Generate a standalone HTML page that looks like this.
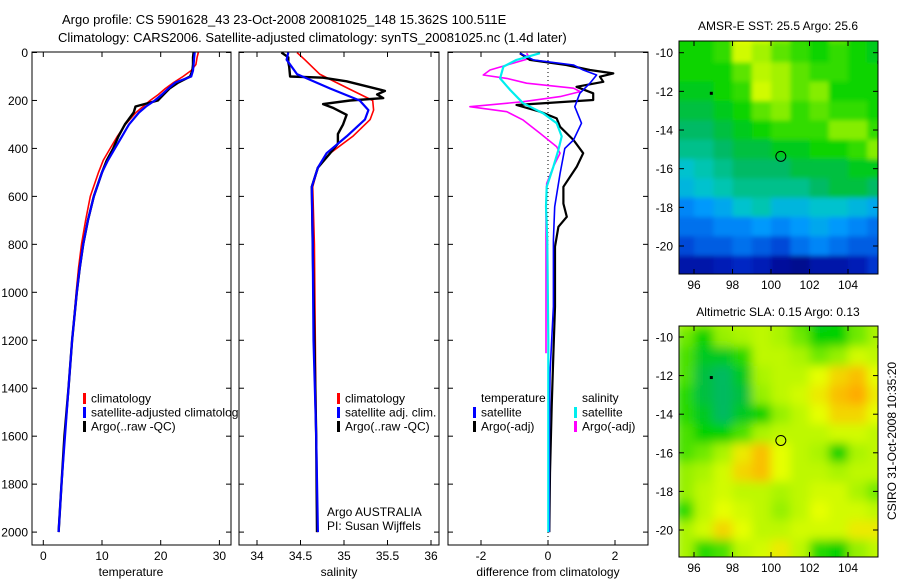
<!DOCTYPE html>
<html><head><meta charset="utf-8">
<style>
html,body{margin:0;padding:0;background:#fff;}
svg{display:block;font-family:"Liberation Sans",Arial,sans-serif;}
text{font-size:12px;fill:#000;}
</style></head>
<body>
<svg id="fig" width="900" height="580" viewBox="0 0 900 580" xmlns="http://www.w3.org/2000/svg">
<defs>
<clipPath id="cp1"><rect x="32" y="52" width="199" height="493"/></clipPath>
<clipPath id="cp2"><rect x="239" y="52" width="200" height="493"/></clipPath>
<clipPath id="cp3"><rect x="448" y="52" width="200" height="493"/></clipPath>
<clipPath id="cm1"><rect x="679" y="41" width="199" height="233"/></clipPath>
<clipPath id="cm2"><rect x="679" y="326" width="199" height="231"/></clipPath>
<filter id="blur1" x="-5%" y="-5%" width="110%" height="110%"><feGaussianBlur stdDeviation="2.5"/></filter>
<filter id="blur2" x="-5%" y="-5%" width="110%" height="110%"><feGaussianBlur stdDeviation="5"/></filter>
</defs>
<text x="62" y="24" style="font-size:13px">Argo profile: CS 5901628_43 23-Oct-2008 20081025_148 15.362S 100.511E</text>
<text x="58" y="42" style="font-size:13px">Climatology: CARS2006. Satellite-adjusted climatology: synTS_20081025.nc (1.4d later)</text>
<g id="g1"></g>
<g id="g2"></g>
<g id="g3"></g>
<g id="gm1"></g>
<g id="gm2"></g>
<text transform="translate(896,441) rotate(-90)" text-anchor="middle">CSIRO 31-Oct-2008 10:35:20</text>
</svg>
<script>
const depths=[0,20,50,75,100,125,150,175,200,225,250,300,350,400,450,500,600,700,800,900,1000,1200,1400,1600,1800,2000];
const tClim=[26.4,26.2,26.0,25.2,23.8,22.2,20.8,19.6,18.2,17.0,15.8,14.0,12.6,11.4,10.2,9.4,8.0,7.2,6.5,6.0,5.6,4.9,4.3,3.6,3.1,2.6];
const tSat=[25.8,25.7,25.6,25.5,25.2,22.5,21.3,20.2,19.0,17.5,16.3,14.6,13.4,12.2,11.0,10.0,8.6,7.6,6.8,6.2,5.7,4.9,4.3,3.7,3.1,2.6];
const tArgo=[25.6,25.5,25.5,25.4,25.0,23.0,21.5,20.5,19.5,15.7,15.4,13.9,12.8,11.9,10.8,10.0,8.6,7.6,6.8,6.2,5.7,4.9,4.3,3.6,3.1,2.6];
const sDepths=[0,30,90,150,200,240,280,350,420,480,560,800,1200,1600,2000];
const sClim=[34.46,34.55,34.72,35.05,35.33,35.34,35.30,35.10,34.84,34.70,34.64,34.66,34.67,34.68,34.69];
const sSat=[34.36,34.34,34.46,34.84,35.18,35.28,35.24,35.03,34.80,34.70,34.63,34.64,34.65,34.68,34.70];
const aDepths=[0,20,40,60,100,105,120,160,175,190,200,215,230,260,300,340,380,420,480,560,800,1200,1600,2000];
const sArgo=[34.28,34.36,34.36,34.37,34.38,34.76,35.03,35.47,35.38,35.45,35.07,34.76,34.87,35.03,34.99,34.93,34.93,34.84,34.70,34.63,34.64,34.66,34.68,34.69];
const dDepthsB=[3,31,52,73,94,128,170,226,295,365,400,504,643,782,1060,1338,1616,2000];
const dTSat=[-0.84,-0.44,0.76,1.05,1.45,1.25,0.95,0.8,1.0,0.76,0.5,0.36,0.2,0.16,0.16,0.06,0.04,0.04];
const dDepthsK=[3,31,52,73,87,101,122,143,170,198,219,247,275,310,365,420,476,560,630,685,727,810,1060,1254,1476,1754,2000];
const dTArgo=[-0.84,-0.54,0.55,1.25,1.95,1.55,1.65,0.85,1.35,1.35,-0.94,-0.24,0.26,0.36,0.76,1.05,0.86,0.46,0.46,0.56,0.31,0.21,0.21,0.16,0.11,0.06,0.04];
const dDepthsC=[3,31,59,108,156,212,254,295,350,406,476,560,643,782,1199,2000];
const dSSat=[-0.24,-0.94,-1.33,-1.43,-1.13,-0.74,-0.14,0.26,0.41,0.31,0.16,-0.04,-0.06,-0.02,0.01,0.01];
const dDepthsM=[3,24,73,94,108,128,149,163,184,205,226,247,282,337,393,420,476,546,643,1254];
const dSArgo=[-0.64,-0.54,-1.73,-1.93,-1.23,-0.64,0.76,0.96,0.36,-0.74,-2.33,-1.23,-0.74,-0.24,0.26,0.36,0.16,-0.04,-0.06,-0.06];
const tTicks=[0,10,20,30];
const sTicks=[34,34.5,35,35.5,36];
const sTickLabels=["34","34.5","35","35.5","36"];
const dTicks=[-2,0,2];
const pTicks=[0,200,400,600,800,1000,1200,1400,1600,1800,2000];
const lonTicks=[96,98,100,102,104];
const latTicks=[-10,-12,-14,-16,-18,-20];
const mapLons=[95.5,96.5,97.5,98.5,99.5,100.5,101.5,102.5,103.5,104.5,105.5];
const mapLats=[-9.5,-10,-11,-12,-13,-14,-15,-16,-17,-18,-19,-20,-21,-22];
const sstVals=[
[25.0,25.0,25.1,25.7,25.6,25.3,25.1,25.0,25.2,25.0,24.9],
[25.0,25.0,25.1,25.6,25.4,25.2,25.1,25.0,25.1,25.0,24.9],
[25.0,25.0,25.0,25.2,25.5,25.4,25.2,25.1,25.1,25.0,25.0],
[24.9,24.9,25.0,25.1,25.6,25.4,25.2,25.3,25.0,25.0,25.0],
[24.8,24.8,24.9,25.0,25.2,25.3,25.1,25.2,25.1,25.1,25.0],
[24.7,24.7,24.8,24.9,25.0,25.1,25.1,25.1,25.3,25.3,25.1],
[24.6,24.6,24.7,24.8,24.8,24.9,24.9,25.0,25.0,25.1,25.3],
[24.4,24.5,24.6,24.7,24.7,24.7,24.8,24.8,24.8,24.9,24.9],
[24.3,24.4,24.5,24.6,24.6,24.6,24.6,24.7,24.8,24.8,24.7],
[24.0,24.1,24.2,24.4,24.5,24.3,24.3,24.4,24.4,24.3,24.2],
[23.9,23.9,24.0,24.0,24.1,24.0,24.1,24.2,24.1,24.0,23.9],
[23.7,23.8,23.8,23.9,23.8,23.7,23.9,24.0,23.9,23.8,23.8],
[23.3,23.3,23.4,23.5,23.4,23.2,23.1,23.3,23.3,23.4,23.6],
[23.2,23.2,23.3,23.4,23.3,23.1,23.1,23.2,23.2,23.3,23.5]];
const slaVals=[
[0.05,0.04,0.05,0.06,0.06,0.05,0.02,-0.01,0.00,0.03,0.05],
[0.03,0.00,0.04,0.05,0.06,0.05,0.03,0.00,0.00,0.03,0.05],
[0.02,-0.01,-0.01,0.01,0.06,0.06,0.05,0.03,0.04,0.07,0.06],
[0.02,-0.02,-0.03,-0.01,0.05,0.06,0.06,0.08,0.10,0.11,0.08],
[0.01,-0.02,-0.03,-0.02,0.04,0.06,0.07,0.09,0.11,0.12,0.09],
[0.01,-0.01,-0.03,-0.01,0.00,0.04,0.06,0.08,0.10,0.10,0.08],
[0.02,0.00,0.00,0.02,0.05,0.06,0.06,0.06,0.07,0.07,0.06],
[0.02,0.03,0.05,0.09,0.11,0.08,0.06,0.05,0.00,0.05,0.06],
[0.04,0.05,0.07,0.10,0.11,0.08,0.06,0.06,0.05,0.06,0.06],
[0.04,0.06,0.07,0.06,0.06,0.05,0.06,0.07,0.07,0.05,0.03],
[0.01,0.06,0.08,0.07,0.06,0.04,0.06,0.08,0.07,0.07,0.06],
[0.05,0.07,0.10,0.08,0.06,0.06,0.07,0.07,0.07,0.09,0.09],
[0.05,0.01,0.02,0.06,0.07,0.09,0.06,0.01,0.00,0.04,0.06],
[0.05,0.01,0.02,0.06,0.08,0.09,0.06,0.01,0.00,0.04,0.06]];
const argoPos=[100.511,-15.362];
const dotPos=[[96.9,-12.1],[105.6,-10.5]];

const NS='http://www.w3.org/2000/svg';
function mk(tag,attrs,parent,txt){const e=document.createElementNS(NS,tag);for(const k in attrs)e.setAttribute(k,attrs[k]);if(txt!==undefined)e.textContent=txt;parent.appendChild(e);return e;}
const yD=d=>52.5+0.2398*d;
const xT=t=>43.3+5.87*t;
const xS=s=>257+87*(s-34);
const xD=v=>548+33.5*v;
const lonX=l=>694+19.25*(l-96);
const lat1=a=>52.7+19.33*(-10-a);
const lat2=a=>337+19.3*(-10-a);

function box(g,x0,x1,y0,y1){
  const r=mk('rect',{x:x0,y:y0,width:x1-x0,height:y1-y0,fill:'#fff',stroke:'none'},g);
  
  
}
function frame(g,x0,x1,y0,y1){
  const r=mk('rect',{x:x0,y:y0,width:x1-x0,height:y1-y0,fill:'none',stroke:'#000','stroke-width':1},g);
  
  
}
function xticks(g,vals,labels,fx,y0,y1,ly){
  vals.forEach((v,i)=>{const x=fx(v);
    mk('line',{x1:x,x2:x,y1:y1,y2:y1-5,stroke:'#000'},g);
    mk('line',{x1:x,x2:x,y1:y0,y2:y0+5,stroke:'#000'},g);
    const t=mk('text',{x:x,y:ly,'text-anchor':'middle'},g,labels[i]);
    
    
  });
}
function yticks(g,vals,fy,x0,x1,labels,lx){
  vals.forEach((v,i)=>{const y=fy(v);
    mk('line',{x1:x0,x2:x0+5,y1:y,y2:y,stroke:'#000'},g);
    mk('line',{x1:x1,x2:x1-5,y1:y,y2:y,stroke:'#000'},g);
    if(labels){const t=mk('text',{x:lx,y:y+4.5,'text-anchor':'end'},g,labels[i]);
      
      }
  });
}
function line(g,xs,ds,fx,col,w,name,clip){
  const pts=xs.map((v,i)=>fx(v).toFixed(1)+','+yD(ds[i]).toFixed(1)).join(' ');
  const p=mk('polyline',{points:pts,fill:'none',stroke:col,'stroke-width':w,'clip-path':'url(#'+clip+')','stroke-linejoin':'round'},g);
  
  
}
function legend(g,x,y,col,label){
  mk('rect',{x:x-1,y:y-5,width:3,height:11,fill:col},g);
  const t=mk('text',{x:x+7,y:y+4.5},g,label);
  
  
}
const g1=document.getElementById('g1');
box(g1,32,231,52,545);
line(g1,tClim,depths,xT,'#f00',1.6,'temperature-climatology-line','cp1');
line(g1,tArgo,depths,xT,'#000',2.4,'temperature-argo-line','cp1');
line(g1,tSat,depths,xT,'#00f',2.2,'temperature-satellite-line','cp1');
legend(g1,84,398,'#f00','climatology');
legend(g1,84,412,'#00f','satellite-adjusted climatology');
legend(g1,84,426,'#000','Argo(..raw -QC)');
xticks(g1,tTicks,tTicks.map(String),xT,52,545,560);
yticks(g1,pTicks,yD,32,231,pTicks.map(String),28);
frame(g1,32,231,52,545);
mk('text',{x:131,y:576,'text-anchor':'middle'},g1,'temperature');
const g2=document.getElementById('g2');
box(g2,239,439,52,545);
line(g2,sClim,sDepths,xS,'#f00',1.6,'salinity-climatology-line','cp2');
line(g2,sArgo,aDepths,xS,'#000',2.4,'salinity-argo-line','cp2');
line(g2,sSat,sDepths,xS,'#00f',2.2,'salinity-satellite-line','cp2');
legend(g2,338,398,'#f00','climatology');
legend(g2,338,412,'#00f','satellite adj. clim.');
legend(g2,338,426,'#000','Argo(..raw -QC)');
mk('text',{x:327,y:516},g2,'Argo AUSTRALIA');
mk('text',{x:327,y:530},g2,'PI: Susan Wijffels');
xticks(g2,sTicks,sTickLabels,xS,52,545,560);
yticks(g2,pTicks,yD,239,439,null,0);
frame(g2,239,439,52,545);
mk('text',{x:339,y:576,'text-anchor':'middle'},g2,'salinity');
const g3=document.getElementById('g3');
box(g3,448,648,52,545);
mk('line',{x1:xD(0),x2:xD(0),y1:52,y2:545,stroke:'#000','stroke-dasharray':'1,3'},g3);
line(g3,dSArgo,dDepthsM,xD,'#f0f',1.6,'salinity-argo-diff-line','cp3');
line(g3,dTArgo,dDepthsK,xD,'#000',2.2,'temperature-argo-diff-line','cp3');
line(g3,dTSat,dDepthsB,xD,'#00f',1.6,'temperature-satellite-diff-line','cp3');
line(g3,dSSat,dDepthsC,xD,'#0ee',2.2,'salinity-satellite-diff-line','cp3');
mk('text',{x:481,y:402},g3,'temperature');
mk('text',{x:582,y:402},g3,'salinity');
legend(g3,474,412,'#00f','satellite');
legend(g3,474,426,'#000','Argo(-adj)');
legend(g3,575,412,'#0ee','satellite');
legend(g3,575,426,'#f0f','Argo(-adj)');
xticks(g3,dTicks,dTicks.map(String),xD,52,545,560);
yticks(g3,pTicks,yD,448,648,null,0);
frame(g3,448,648,52,545);
mk('text',{x:548,y:576,'text-anchor':'middle'},g3,'difference from climatology');
const stops=[[0,0,0,130],[0.15,0,40,200],[0.3,0,150,255],[0.4,0,200,200],[0.48,0,185,90],[0.55,0,210,0],[0.65,150,240,0],[0.75,230,255,0],[0.85,255,170,0],[1,255,60,0]];
function cmap(t){t=Math.max(0,Math.min(1,t));for(let i=1;i<stops.length;i++){if(t<=stops[i][0]){const a=stops[i-1],b=stops[i],f=(t-a[0])/(b[0]-a[0]);return 'rgb('+[1,2,3].map(k=>Math.round(a[k]+f*(b[k]-a[k]))).join(',')+')';}}return 'rgb(255,60,0)';}
function drawMap(g,vals,latF,cmin,cmax,clip,filt,y0,y1,title,ty){
  const cells=mk('g',{'clip-path':'url(#'+clip+')'},g);
  const inner=mk('g',{filter:'url(#'+filt+')'},cells);
  vals.forEach((row,i)=>row.forEach((v,j)=>{
    const lo=mapLons[j], la=mapLats[i];
    const x=lonX(lo-0.5), y=latF(la+0.5);
    const c=mk('rect',{x:x.toFixed(1),y:y.toFixed(1),width:(lonX(lo+0.5)-x+0.6).toFixed(1),height:(latF(la-0.5)-y+0.6).toFixed(1),fill:cmap((v-cmin)/(cmax-cmin))},inner);
    
    
  }));
  dotPos.forEach(p=>{const d=mk('rect',{x:lonX(p[0])-1.5,y:latF(p[1])-1.5,width:3,height:3,fill:'#000'},cells);
    
    });
  const c=mk('circle',{cx:lonX(argoPos[0]),cy:latF(argoPos[1]),r:5,fill:'none',stroke:'#000','stroke-width':1},g);
  
  
  xticks(g,lonTicks,lonTicks.map(String),lonX,y0,y1,y1+15);
  yticks(g,latTicks,latF,679,878,latTicks.map(v=>'-'+Math.abs(v)),673);
  frame(g,679,878,y0,y1);
  const t=mk('text',{x:778,y:ty,'text-anchor':'middle'},g,title);
  
  
}
drawMap(document.getElementById('gm1'),sstVals,lat1,23,26.6,'cm1','blur1',41,274,'AMSR-E SST: 25.5 Argo: 25.6',30);
drawMap(document.getElementById('gm2'),slaVals,lat2,-0.22,0.18,'cm2','blur2',326,557,'Altimetric SLA: 0.15 Argo: 0.13',316);
</script>
</body></html>
